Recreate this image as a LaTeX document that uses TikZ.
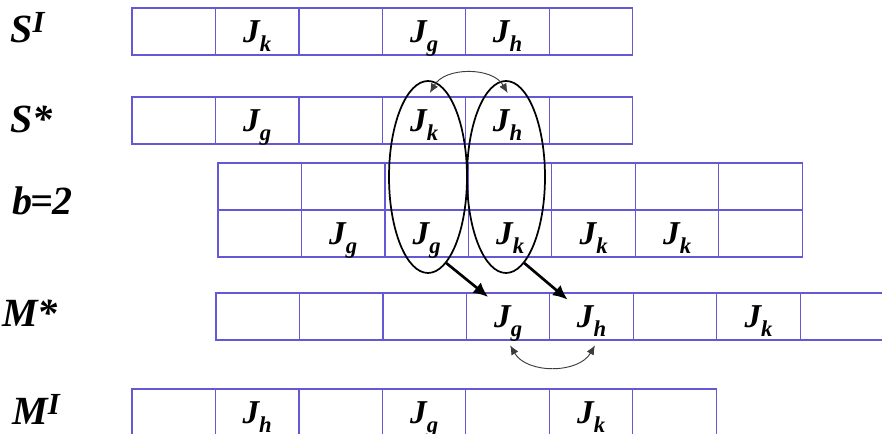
\documentclass[tikz,border=0pt]{standalone}
\usepackage{fontspec}
\setmainfont{Liberation Serif}
\usepackage{tikz}
\usetikzlibrary{positioning}
\usetikzlibrary{shapes.geometric}
\usetikzlibrary{arrows.meta}

\definecolor{cellblue}{RGB}{100,88,212}
\definecolor{swapgray}{RGB}{60,60,60}

\newcommand{\job}[1]{J\raisebox{-7pt}{\fontsize{17}{17}\selectfont #1}}
\newcommand{\rowlab}[2]{#1\raisebox{8pt}{\fontsize{23}{23}\selectfont #2}}

\tikzset{
    cell/.style={draw=cellblue, line width=0.9pt, minimum width=62.6pt, minimum height=35.25pt,
        inner sep=0pt, outer sep=0pt, font=\fontsize{25}{25}\selectfont\bfseries\itshape,
        text height=19pt, text depth=2.75pt},
    rowname/.style={anchor=base west, inner sep=0pt, font=\fontsize{30}{30}\selectfont\bfseries\itshape},
    window/.style={draw, ellipse, line width=1.3pt, minimum width=58.5pt, minimum height=144pt, inner sep=0pt},
    jobmove/.style={line width=2pt, -{Latex[length=11pt,width=10pt]}},
    exchange/.style={swapgray, line width=0.7pt, {Latex[length=7pt,width=6pt]}-{Latex[length=7pt,width=6pt]}},
}

\begin{document}
\begin{tikzpicture}[x=0.75pt, y=-0.75pt]
    \useasboundingbox (0,0) rectangle (882,434);

    % row names
    \node[rowname] (lsi) at (10,43) {\rowlab{S}{I}};
    \node[rowname] (lss) at (10,133) {S*};
    \node[rowname] (lb) at (12,215) {b\kern-1pt=\kern-1pt2};
    \node[rowname] (lms) at (2,327) {M*};
    \node[rowname] (lmi) at (12,425) {\rowlab{M}{I}};

    % S^I
    \node[cell] (si1) at (173.75,31.5) {};
    \node[cell, right=0pt of si1] (si2) {\job{k}};
    \node[cell, right=0pt of si2] (si3) {};
    \node[cell, right=0pt of si3] (si4) {\job{g}};
    \node[cell, right=0pt of si4] (si5) {\job{h}};
    \node[cell, right=0pt of si5] (si6) {};

    % S*
    \node[cell] (ss1) at (173.75,120.5) {};
    \node[cell, right=0pt of ss1] (ss2) {\job{g}};
    \node[cell, right=0pt of ss2] (ss3) {};
    \node[cell, right=0pt of ss3] (ss4) {\job{k}};
    \node[cell, right=0pt of ss4] (ss5) {\job{h}};
    \node[cell, right=0pt of ss5] (ss6) {};

    % b=2, upper
    \node[cell] (bu1) at (259.75,186.5) {};
    \node[cell, right=0pt of bu1] (bu2) {};
    \node[cell, right=0pt of bu2] (bu3) {};
    \node[cell, right=0pt of bu3] (bu4) {};
    \node[cell, right=0pt of bu4] (bu5) {};
    \node[cell, right=0pt of bu5] (bu6) {};
    \node[cell, right=0pt of bu6] (bu7) {};

    % b=2, lower
    \node[cell, below=0pt of bu1] (bl1) {};
    \node[cell, right=0pt of bl1] (bl2) {\job{g}};
    \node[cell, right=0pt of bl2] (bl3) {\job{g}};
    \node[cell, right=0pt of bl3] (bl4) {\job{k}};
    \node[cell, right=0pt of bl4] (bl5) {\job{k}};
    \node[cell, right=0pt of bl5] (bl6) {\job{k}};
    \node[cell, right=0pt of bl6] (bl7) {};

    % M*
    \node[cell] (ms1) at (257.75,316.5) {};
    \node[cell, right=0pt of ms1] (ms2) {};
    \node[cell, right=0pt of ms2] (ms3) {};
    \node[cell, right=0pt of ms3] (ms4) {\job{g}};
    \node[cell, right=0pt of ms4] (ms5) {\job{h}};
    \node[cell, right=0pt of ms5] (ms6) {};
    \node[cell, right=0pt of ms6] (ms7) {\job{k}};
    \node[cell, right=0pt of ms7] (ms8) {};

    % M^I
    \node[cell] (mi1) at (173.75,412.5) {};
    \node[cell, right=0pt of mi1] (mi2) {\job{h}};
    \node[cell, right=0pt of mi2] (mi3) {};
    \node[cell, right=0pt of mi3] (mi4) {\job{g}};
    \node[cell, right=0pt of mi4] (mi5) {};
    \node[cell, right=0pt of mi5] (mi6) {\job{k}};
    \node[cell, right=0pt of mi6] (mi7) {};

    % the two windows
    \node[window] (ovk) at (428,177) {};
    \node[window] (ovh) at (506,177) {};

    \draw[jobmove] (ovk.-78) -- ([xshift=-15pt, yshift=-3pt]ms4.north);
    \draw[jobmove] (ovh.-78) -- ([xshift=-18pt, yshift=-5pt]ms5.north);

    \draw[exchange] ([xshift=4.3pt, yshift=3pt]ss4.north) to[out=60, in=120] ([yshift=3pt]ss5.north);
    \draw[exchange] ([xshift=1.5pt, yshift=-4pt]ms4.south) to[out=-60, in=-120] ([xshift=2.5pt, yshift=-4pt]ms5.south);
\end{tikzpicture}
\end{document}
